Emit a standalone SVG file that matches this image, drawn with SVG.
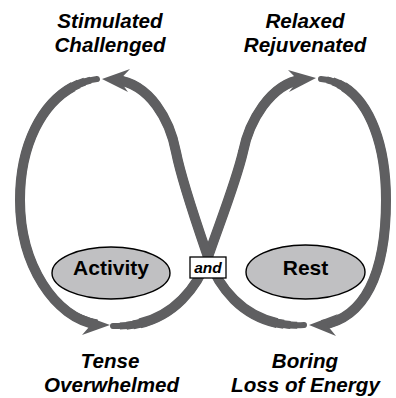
<svg xmlns="http://www.w3.org/2000/svg" width="396" height="398" viewBox="0 0 396 398">
  <style>
    .lbl { font-family: "Liberation Sans", Arial, Helvetica, sans-serif; font-weight: bold; font-style: italic; font-size: 20.6px; fill: #000; text-anchor: middle; }
    .node-text { font-family: "Liberation Sans", Arial, Helvetica, sans-serif; font-weight: bold; font-size: 21px; fill: #000; text-anchor: middle; }
    .oval { fill: #c0c0c2; stroke: #000; stroke-width: 1.4; }
    .box { fill: #fff; stroke: #000; stroke-width: 1.3; }
    .and { font-family: "Liberation Sans", Arial, Helvetica, sans-serif; font-weight: bold; font-style: italic; font-size: 15.5px; fill: #000; text-anchor: middle; }
    /* tapered loop strokes: stacked widths, each wider one starts a little further along the path */
    .t { fill: none; stroke: #5f5f61; stroke-linecap: butt; }
    .t0 { stroke-width: 6; stroke-linecap: round; }
    .t1 { stroke-width: 7; stroke-dasharray: 98 2; stroke-dashoffset: -2; }
    .t2 { stroke-width: 8; stroke-dasharray: 96 4; stroke-dashoffset: -4; }
    .t3 { stroke-width: 9; stroke-dasharray: 94 6; stroke-dashoffset: -6; }
    .t4 { stroke-width: 10; stroke-dasharray: 92 8; stroke-dashoffset: -8; }
    .head { fill: #5f5f61; stroke: none; }
  </style>
  <defs>
    <!-- left loop outer side: top gap down to bottom-left arrow -->
    <path id="seg1" pathLength="100" d="M97,79 C55,84 20,130 20,200 C20,265 55,318 97,324.5"/>
    <!-- bottom-left gap up through the crossing to top-right arrow -->
    <path id="seg2" pathLength="100" d="M113,326 C160,328 194,298 208,257 C220,222 236,182 243,152 C249,122 270,84 302,79.5"/>
    <!-- right loop outer side: top gap down to bottom-right arrow -->
    <path id="seg3" pathLength="100" d="M321,79 C360,82 386,130 386,200 C386,275 364,318 322,325"/>
    <!-- bottom-right gap up through the crossing to top-left arrow -->
    <path id="seg4" pathLength="100" d="M304,325 C256,328 222,298 208,257 C196,222 182,182 176,152 C170,120 150,84 116,79.8"/>
  </defs>

  <g id="connectors">
    <g id="loop-left-outer">
      <use href="#seg1" class="t t0"/><use href="#seg1" class="t t1"/><use href="#seg1" class="t t2"/><use href="#seg1" class="t t3"/><use href="#seg1" class="t t4"/>
    </g>
    <g id="cross-up-right">
      <use href="#seg2" class="t t0"/><use href="#seg2" class="t t1"/><use href="#seg2" class="t t2"/><use href="#seg2" class="t t3"/><use href="#seg2" class="t t4"/>
    </g>
    <g id="loop-right-outer">
      <use href="#seg3" class="t t0"/><use href="#seg3" class="t t1"/><use href="#seg3" class="t t2"/><use href="#seg3" class="t t3"/><use href="#seg3" class="t t4"/>
    </g>
    <g id="cross-up-left">
      <use href="#seg4" class="t t0"/><use href="#seg4" class="t t1"/><use href="#seg4" class="t t2"/><use href="#seg4" class="t t3"/><use href="#seg4" class="t t4"/>
    </g>
    <!-- arrowheads -->
    <path class="head" d="M102,79 L130,69 L119.5,80 L128,92 Z"/>
    <path class="head" d="M316,78 L288,70 L298,80 L289,92 Z"/>
    <path class="head" d="M110,325 L80,314 L91,324.7 L82,335 Z"/>
    <path class="head" d="M309,325 L338,314 L327,325 L336,336 Z"/>
  </g>

  <g id="activity">
    <ellipse class="oval" cx="111" cy="273" rx="59" ry="26"/>
    <text class="node-text" x="111" y="274.5">Activity</text>
  </g>
  <g id="rest">
    <ellipse class="oval" cx="305.5" cy="272" rx="59.5" ry="27"/>
    <text class="node-text" x="305.5" y="274.5">Rest</text>
  </g>
  <g id="and">
    <rect class="box" x="190" y="257" width="36" height="21"/>
    <text class="and" x="208" y="272.5">and</text>
  </g>

  <g id="state-stimulated">
    <text class="lbl" x="110" y="28">Stimulated</text>
    <text class="lbl" x="110" y="52">Challenged</text>
  </g>
  <g id="state-relaxed">
    <text class="lbl" x="305" y="28">Relaxed</text>
    <text class="lbl" x="305" y="52">Rejuvenated</text>
  </g>
  <g id="state-tense">
    <text class="lbl" x="110" y="368">Tense</text>
    <text class="lbl" x="111.5" y="392">Overwhelmed</text>
  </g>
  <g id="state-boring">
    <text class="lbl" x="305" y="368">Boring</text>
    <text class="lbl" x="305.5" y="392">Loss of Energy</text>
  </g>
</svg>
